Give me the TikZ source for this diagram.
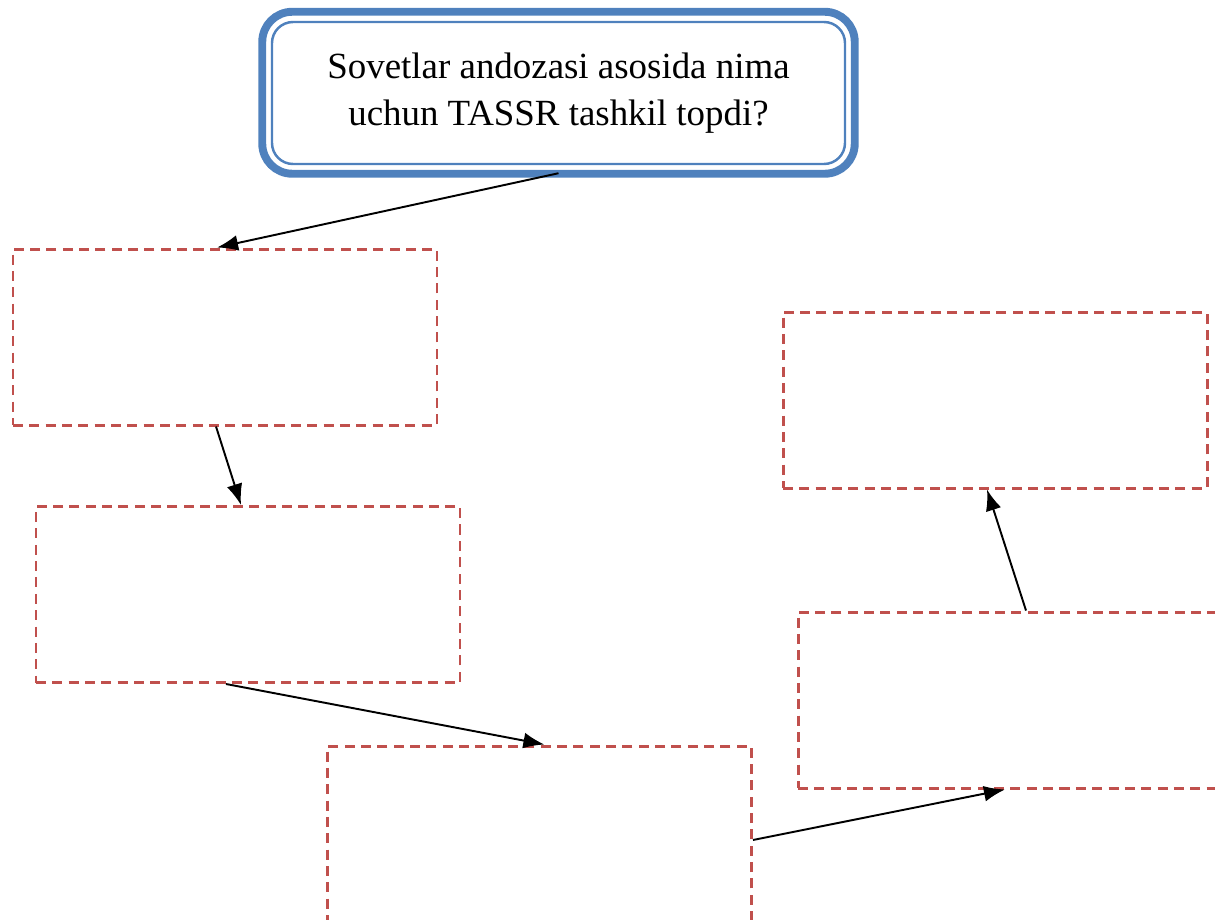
\documentclass[tikz,border=0pt]{standalone}
\usepackage{fontspec}
\setmainfont{Liberation Serif}
\usetikzlibrary{arrows.meta}
\definecolor{boxblue}{HTML}{4F81BD}
\definecolor{boxred}{HTML}{C0504D}

\begin{document}
\begin{tikzpicture}[
  emptybox/.style={draw=boxred, line width=1.7pt, dash pattern=on 5.7pt off 3.6pt,
    minimum width=8.48cm, minimum height=3.52cm},
  link/.style={line width=1.1pt, -{Latex[length=12pt,width=9pt]}}
]
\useasboundingbox (0,0) rectangle (24.3,-18.38);
\clip (0,0) rectangle (24.3,-18.38);

% question box
\node[draw=boxblue, line width=1.4pt, rounded corners=0.42cm, minimum width=11.46cm,
  minimum height=2.84cm, align=center, font=\fontsize{21}{26.5}\selectfont]
  (ques) at (11.17,-1.86) {Sovetlar andozasi asosida nima\\uchun TASSR tashkil topdi?};
\draw[boxblue, line width=4.5pt, rounded corners=0.6cm]
  ([shift={(-0.17,0.18)}]ques.north west) rectangle ([shift={(0.17,-0.17)}]ques.south east);

% answer boxes
\node[emptybox] (a) at (4.5,-6.74) {};
\node[emptybox] (b) at (4.96,-11.89) {};
\node[emptybox] (c) at (10.79,-16.68) {};
\node[emptybox] (d) at (19.9,-8.0) {};
\node[emptybox] (e) at (20.2,-14.0) {};

% arrows
\draw[link] ([yshift=-0.16cm]ques.south) -- ([xshift=-0.16cm]a.north);
\draw[link] ([xshift=-0.18cm]a.south) -- ([xshift=-0.14cm]b.north);
\draw[link] ([xshift=-0.44cm]b.south) -- ([xshift=0.1cm]c.north);
\draw[link] ([yshift=-0.12cm]c.east) -- ([xshift=-0.1cm]e.south);
\draw[link] ([xshift=0.32cm]e.north) -- ([xshift=-0.16cm]d.south);
\end{tikzpicture}
\end{document}
